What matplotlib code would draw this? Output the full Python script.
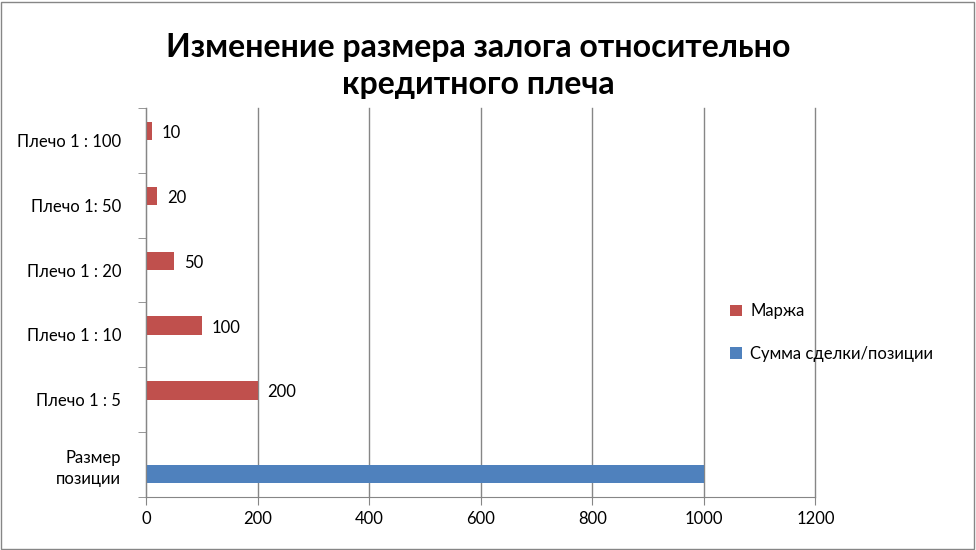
import matplotlib
matplotlib.use("Agg")
import matplotlib.pyplot as plt
import numpy as np
from matplotlib.patches import Rectangle

categories = ["Размер\nпозиции", "Плечо 1 : 5", "Плечо 1 : 10", "Плечо 1 : 20", "Плечо 1: 50", "Плечо 1 : 100"]
margin = [0, 200, 100, 50, 20, 10]
position = [1000, 0, 0, 0, 0, 0]
xticks = [0, 200, 400, 600, 800, 1000, 1200]

plt.rcParams['font.family'] = ['Lato', 'DejaVu Sans']
fig = plt.figure(figsize=(9.76, 5.5), dpi=100)
ax = fig.add_axes([0.1496, 0.0964, 0.6858, 0.7072])

y = np.arange(len(categories))
h = 0.286
red = "#C0504D"
blue = "#4F81BD"
ax.barh(y - h / 2, position, height=h, color=blue, label="Сумма сделки/позиции")
ax.barh(y + h / 2, margin, height=h, color=red, label="Маржа")
for yi, v in zip(y, margin):
    if v:
        ax.text(v + 18, yi + h / 2 - 0.03, str(v), va="center", ha="left", fontsize=12)

ax.set_xlim(0, 1200)
ax.set_ylim(-0.5, len(categories) - 0.5)
ax.set_xticks(xticks)
ax.set_xticklabels([str(t) for t in xticks], fontsize=12)
ax.set_yticks(y)
ax.set_yticklabels(categories, fontsize=12, linespacing=1.4)
ax.set_yticks(np.arange(-0.5, len(categories) - 0.4, 1), minor=True)
ax.tick_params(axis="y", which="major", length=0, pad=18)
ax.tick_params(axis="y", which="minor", length=6, color="#868686")
ax.tick_params(axis="x", length=6, color="#868686", pad=4)
ax.grid(axis="x", color="#868686", linewidth=1)
for gl in ax.get_xgridlines():
    gl.set_clip_on(False)
ax.set_axisbelow(True)
for s in ["top", "right"]:
    ax.spines[s].set_visible(False)
ax.spines["left"].set_color("#868686")
ax.spines["bottom"].set_color("#868686")

fig.text(0.49, 0.88, "Изменение размера залога относительно\nкредитного плеча", ha="center", va="center",
         fontsize=23, fontweight="bold", linespacing=1.3)

handles, labels = ax.get_legend_handles_labels()
ax.legend(handles[::-1], labels[::-1], loc="center left", bbox_to_anchor=(0.733, 0.395), bbox_transform=fig.transFigure,
          frameon=False, fontsize=12, handlelength=0.7, handleheight=0.7, labelspacing=1.6, handletextpad=0.5)

fig.add_artist(Rectangle((0.001, 0.002), 0.997, 0.995, transform=fig.transFigure, fill=False,
                         edgecolor="#868686", linewidth=1))
fig.savefig("out.png", dpi=100)
